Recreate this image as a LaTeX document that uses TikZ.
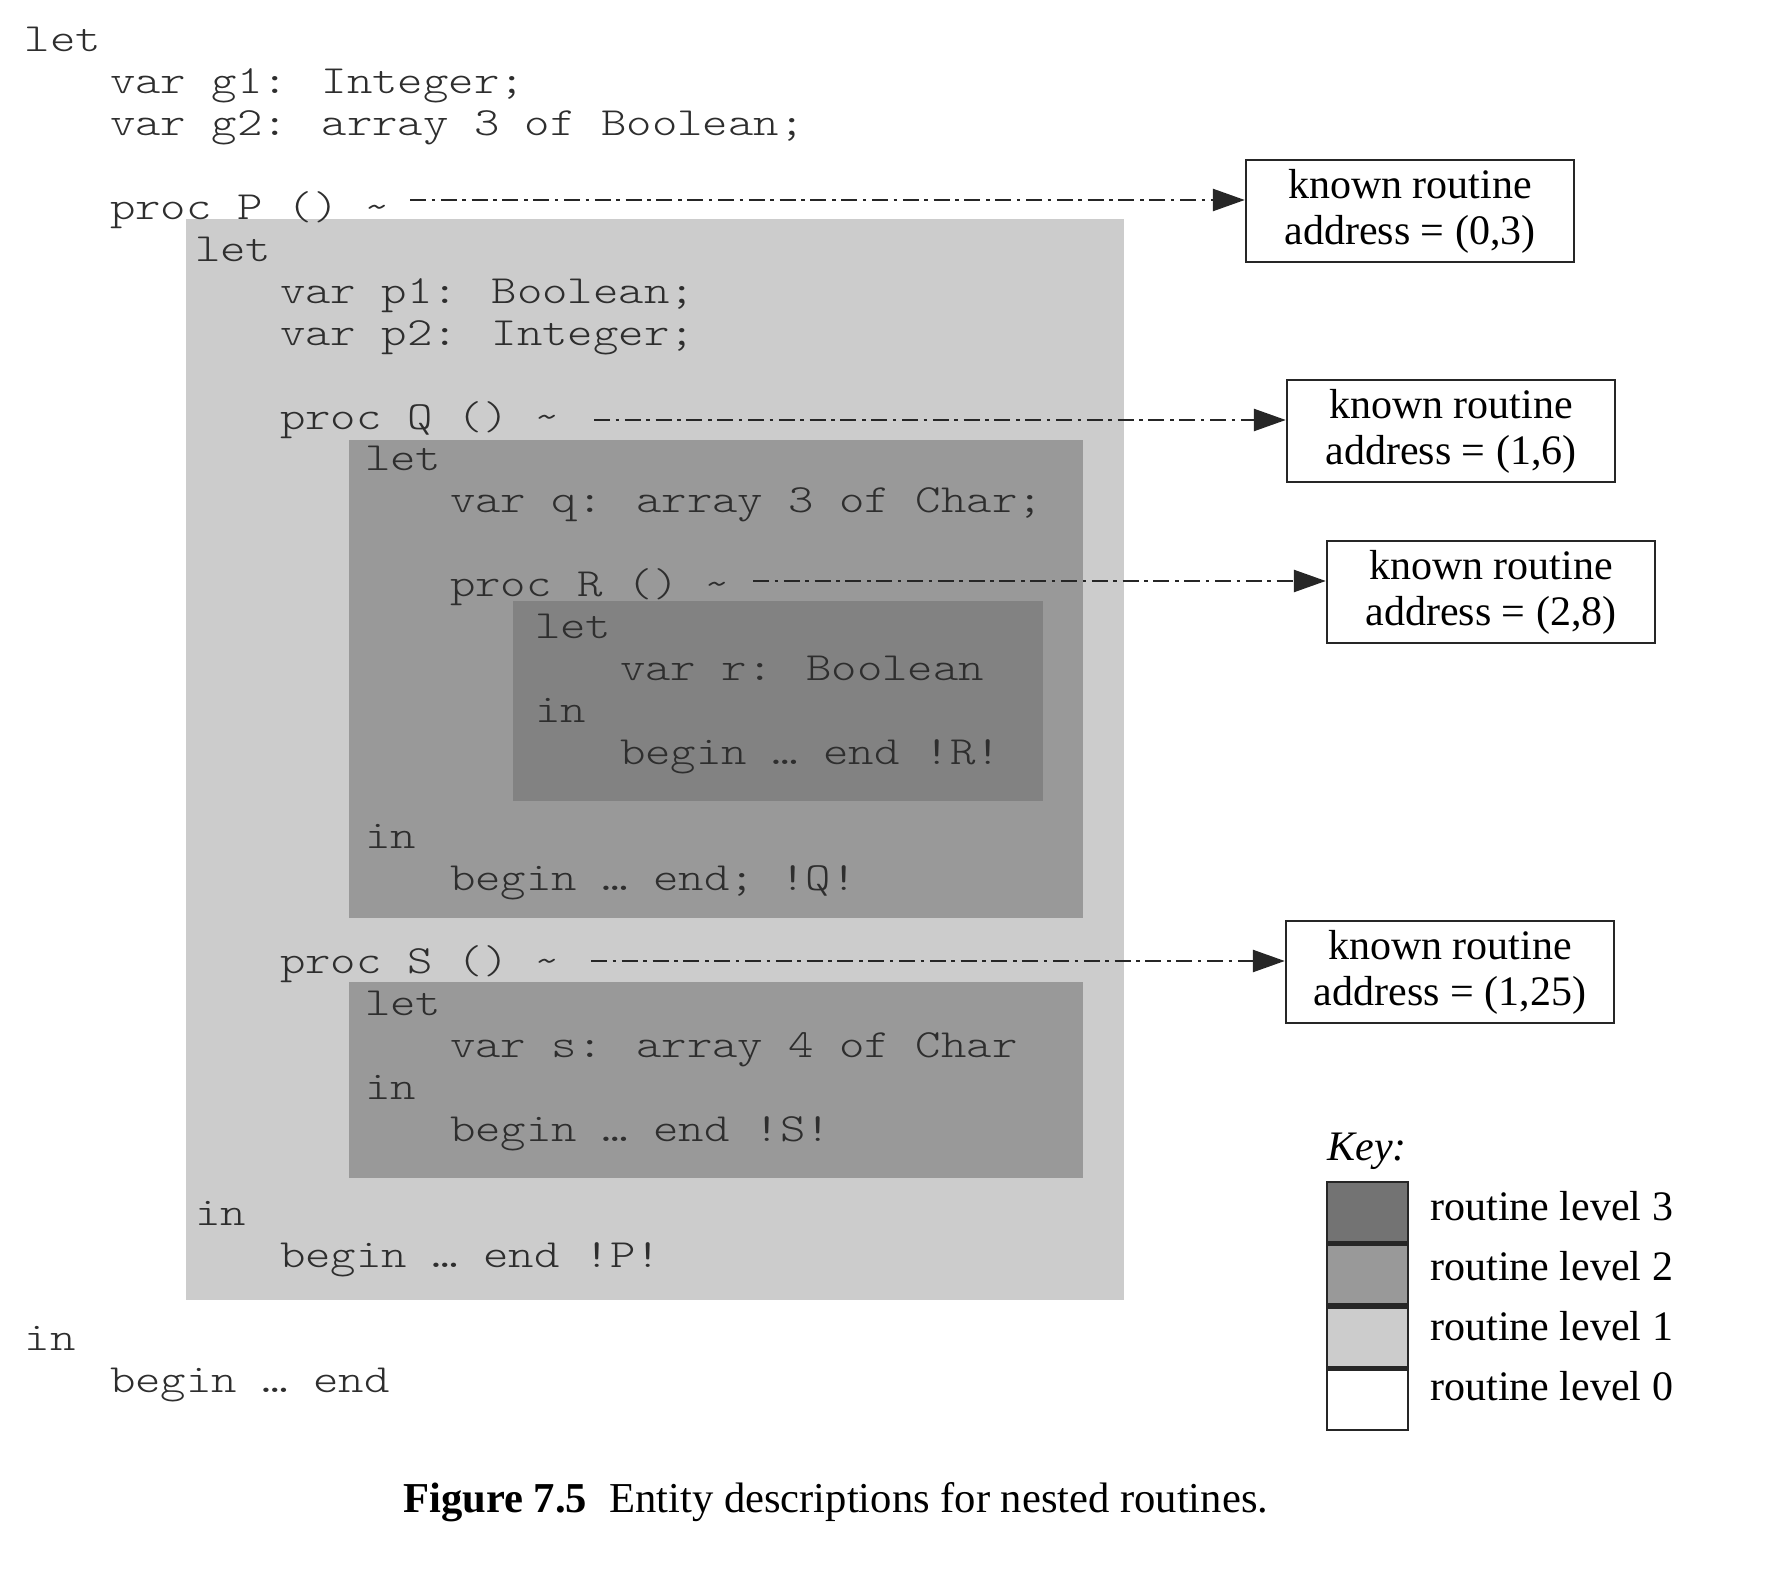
\documentclass[tikz,border=0pt]{standalone}
\usepackage{fontspec}
\setmainfont{Liberation Serif}
\newfontfamily\codefont[FakeStretch=1.21]{lmmonolt10-regular.otf}
\usetikzlibrary{arrows.meta}
\definecolor{lvlone}{gray}{0.80}
\definecolor{lvltwo}{gray}{0.60}
\definecolor{lvlthree}{gray}{0.51}
\definecolor{keythree}{gray}{0.45}
\definecolor{codeink}{gray}{0.18}
\tikzset{
  code/.style={anchor=base west, inner sep=0pt, outer sep=0pt,
    font=\codefont\fontsize{20}{22}\selectfont, text=codeink},
  kbox/.style={draw=black!85, line width=1.2pt, minimum width=164pt,
    minimum height=51pt, inner sep=0pt, align=center,
    font=\fontsize{21}{23}\selectfont},
  linkarrow/.style={line width=1.3pt, draw=black!85,
    dash pattern=on 8pt off 2.8pt on 1.8pt off 2.8pt,
    -{Triangle[length=16pt,width=11pt]}},
  keysw/.style={draw=black!85, line width=1.3pt, minimum width=40.5pt,
    minimum height=30pt, inner sep=0pt},
  keylbl/.style={anchor=base west, inner sep=0pt, font=\fontsize{21}{23}\selectfont},
}
\begin{document}
\begin{tikzpicture}[x=0.5pt,y=-0.5pt]
\useasboundingbox (0,0) rectangle (1768,1572);
% nesting levels
\fill[lvlone]   (186,219) rectangle (1124,1300);
\fill[lvltwo]   (349,440) rectangle (1083,918);
\fill[lvlthree] (513,601) rectangle (1043,801);
\fill[lvltwo]   (349,982) rectangle (1083,1178);
% code lines: baseline = 52 + 41.9 k ; indent = 25 + 85 i
\node[code] (c0)  at (25, 52.0)   {let};
\node[code] (c1)  at (110, 93.9)  {var g1: Integer;};
\node[code] (c2)  at (110, 135.8) {var g2: array 3 of Boolean;};
\node[code] (c4)  at (110, 219.6) {proc P () \textasciitilde};
\node[code] (c5)  at (195, 261.5) {let};
\node[code] (c6)  at (280, 303.4) {var p1: Boolean;};
\node[code] (c7)  at (280, 345.3) {var p2: Integer;};
\node[code] (c9)  at (280, 429.1) {proc Q () \textasciitilde};
\node[code] (c10) at (365, 471.0) {let};
\node[code] (c11) at (450, 512.9) {var q: array 3 of Char;};
\node[code] (c13) at (450, 596.7) {proc R () \textasciitilde};
\node[code] (c14) at (535, 638.6) {let};
\node[code] (c15) at (620, 680.5) {var r: Boolean};
\node[code] (c16) at (535, 722.4) {in};
\node[code] (c17) at (620, 764.3) {begin … end !R!};
\node[code] (c19) at (365, 848.1) {in};
\node[code] (c20) at (450, 890.0) {begin … end; !Q!};
\node[code] (c22) at (280, 973.8) {proc S () \textasciitilde};
\node[code] (c23) at (365, 1015.7) {let};
\node[code] (c24) at (450, 1057.6) {var s: array 4 of Char};
\node[code] (c25) at (365, 1099.5) {in};
\node[code] (c26) at (450, 1141.4) {begin … end !S!};
\node[code] (c28) at (195, 1225.2) {in};
\node[code] (c29) at (280, 1267.1) {begin … end !P!};
\node[code] (c31) at (25, 1350.9)  {in};
\node[code] (c32) at (110, 1392.8) {begin … end};
% entity description boxes
\node[kbox] (bP) at (1410,211) {known routine\\address = (0,3)};
\node[kbox] (bQ) at (1451,431) {known routine\\address = (1,6)};
\node[kbox] (bR) at (1491,592) {known routine\\address = (2,8)};
\node[kbox] (bS) at (1450,972) {known routine\\address = (1,25)};
% arrows
\coordinate (sP) at (410,200);
\coordinate (sQ) at (594,420);
\coordinate (sR) at (753,581);
\coordinate (sS) at (591,961);
\draw[linkarrow] (sP) -- (sP -| bP.west);
\draw[linkarrow] (sQ) -- (sQ -| bQ.west);
\draw[linkarrow] (sR) -- (sR -| bR.west);
\draw[linkarrow] (sS) -- (sS -| bS.west);
% key
\node[anchor=base west, inner sep=0pt, font=\fontsize{21}{23}\selectfont\itshape] (keyt) at (1327,1160) {Key:};
\node[keysw, fill=keythree] (k3) at (1367.5,1212) {};
\node[keysw, fill=lvltwo, anchor=north] (k2) at (k3.south) {};
\node[keysw, fill=lvlone, anchor=north] (k1) at (k2.south) {};
\node[keysw, fill=white, anchor=north] (k0) at (k1.south) {};
\node[keylbl] (l3) at (1430,1220) {routine level 3};
\node[keylbl] (l2) at (1430,1280) {routine level 2};
\node[keylbl] (l1) at (1430,1340) {routine level 1};
\node[keylbl] (l0) at (1430,1400) {routine level 0};
% caption
\node[anchor=base west, inner sep=0pt, font=\fontsize{21.3}{23}\selectfont] (cap) at (403,1512)
  {\textbf{Figure 7.5}\hspace{11pt}Entity descriptions for nested routines.};
\end{tikzpicture}
\end{document}
